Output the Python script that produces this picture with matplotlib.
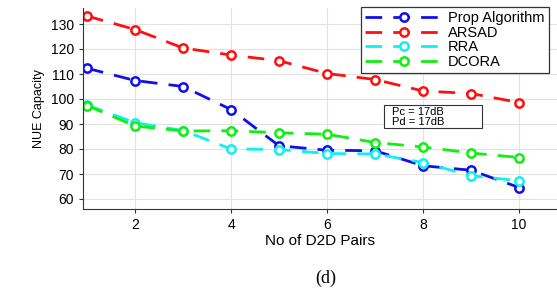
import matplotlib
matplotlib.use("Agg")
import matplotlib.pyplot as plt
from matplotlib.patches import Rectangle

pairs = [1, 2, 3, 4, 5, 6, 7, 8, 9, 10]
prop = [112.3, 107.4, 105.0, 95.8, 81.3, 79.5, 79.3, 73.3, 71.5, 64.6]
arsad = [133.2, 127.8, 120.4, 117.6, 115.3, 110.2, 107.8, 103.2, 102.2, 98.6]
rra = [97.6, 90.5, 87.4, 80.0, 79.8, 78.2, 78.0, 74.6, 69.3, 67.3]
dcora = [97.4, 89.2, 87.2, 87.3, 86.5, 85.9, 82.6, 80.8, 78.4, 76.6]
names = ["Prop Algorithm", "ARSAD", "RRA", "DCORA"]
colors = ["#1010e8", "#ff1010", "#10f0f0", "#10f010"]

plt.rcParams["font.family"] = ["Liberation Sans", "DejaVu Sans"]

fig = plt.figure(figsize=(5.57, 2.89), dpi=100)
ax = fig.add_axes([83 / 557, 80 / 289, 474 / 557, 201 / 289])

for ys, name, c in zip([prop, arsad, rra, dcora], names, colors):
    ax.plot(pairs, ys, color=c, lw=2.0, ls=(0, (6, 4)), marker="o",
            ms=6, mfc="white", mec=c, mew=1.8, label=name)

ax.set_xlim(0.917, 10.79)
ax.set_ylim(56, 136.4)
ax.set_xticks([2, 4, 6, 8, 10])
ax.set_yticks(range(60, 131, 10))
ax.grid(True, color="#e2e2e2", lw=0.8)
ax.set_axisbelow(True)
for s in ["top", "right"]:
    ax.spines[s].set_visible(False)
for s in ["left", "bottom"]:
    ax.spines[s].set_color("#333333")
ax.tick_params(labelsize=10, length=3, width=0.8, color="#333333")

ax.set_ylabel("NUE Capacity", fontsize=9, labelpad=4)
fig.text(320 / 557, 1 - 241 / 289, "No of D2D Pairs", fontsize=11,
         ha="center", va="center")
fig.text(326 / 557, 1 - 278 / 289, "(d)", fontsize=13,
         family=["Liberation Serif"], ha="center", va="center")

leg = ax.legend(loc="upper right", bbox_to_anchor=(549 / 557, 1 - 7 / 289),
                bbox_transform=fig.transFigure, borderaxespad=0,
                fontsize=10.5, handlelength=5.4, handletextpad=0.3,
                labelspacing=0.03, borderpad=0.3, fancybox=False,
                framealpha=1)
leg.get_frame().set_edgecolor("#333333")
leg.get_frame().set_linewidth(0.9)

# parameter note box
ax.add_patch(Rectangle((0.635, 0.403), 0.207, 0.114, transform=ax.transAxes,
                       fc="white", ec="#333333", lw=0.8, zorder=4))
ax.text(0.652, 0.46, "Pc = 17dB\nPd = 17dB", transform=ax.transAxes,
        fontsize=8, ha="left", va="center", linespacing=1.0, zorder=5)

fig.savefig("out.png", dpi=100)
